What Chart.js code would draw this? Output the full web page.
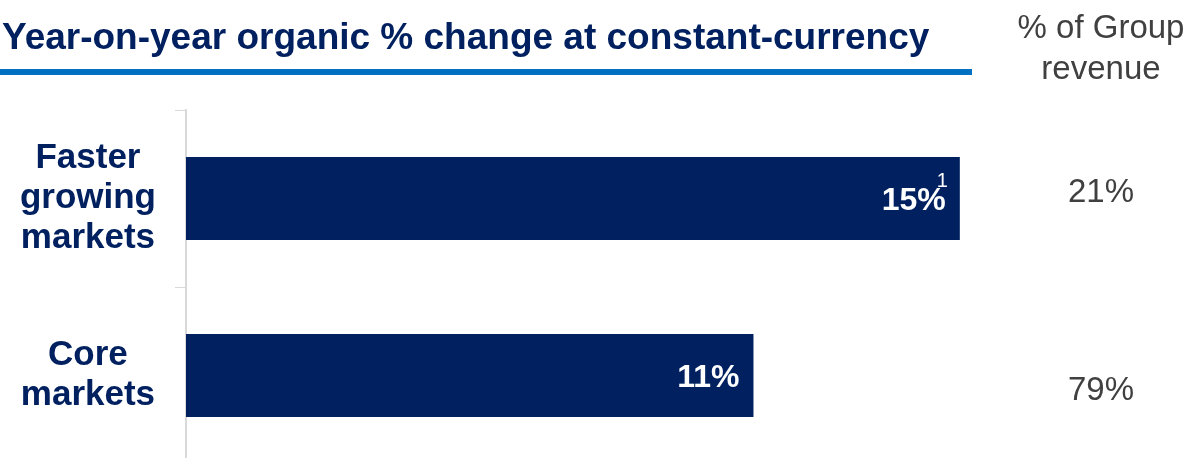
<!DOCTYPE html>
<html>
<head>
<meta charset="utf-8">
<script src="https://cdn.jsdelivr.net/npm/chart.js@4.4.0/dist/chart.umd.min.js"></script>
<style>
  html, body { margin: 0; padding: 0; background: #fff; overflow: hidden; }
  #wrap { width: 1195px; height: 458px; overflow: hidden; }
</style>
</head>
<body>
<div id="wrap"><canvas id="chart" width="1195" height="470"></canvas></div>
<script>
/* ---------- dados ---------- */
const categories = [['Faster', 'growing', 'markets'], ['Core', 'markets']];
const growth = [15, 11];          // % organic change, constant currency
const footnotes = ['1', ''];
const groupShare = [21, 79];      // % of Group revenue

const NAVY = '#002060';
const GREY = '#404040';
const FONT = "'Liberation Sans', Arial, sans-serif";
const TITLE = 'Year-on-year organic % change at constant-currency';

/* ---------- título, régua e coluna da direita ---------- */
const decorPlugin = {
  id: 'decor',
  afterDraw(chart) {
    const { ctx } = chart;
    ctx.save();
    ctx.fillStyle = NAVY;
    ctx.font = `bold 37px ${FONT}`;
    ctx.textAlign = 'left';
    ctx.textBaseline = 'alphabetic';
    ctx.fillText(TITLE, 2, 49);

    ctx.fillStyle = '#0070C0';
    ctx.fillRect(0, 69, 972, 6);

    ctx.fillStyle = GREY;
    ctx.font = `33px ${FONT}`;
    ctx.textAlign = 'center';
    ctx.fillText('% of Group', 1101, 38);
    ctx.fillText('revenue', 1101, 79);

    // valores dentro das barras + % da receita
    const meta = chart.getDatasetMeta(0);
    meta.data.forEach((bar, i) => {
      const xEnd = bar.x - 14;
      ctx.fillStyle = '#fff';
      ctx.font = `bold 32px ${FONT}`;
      ctx.textAlign = 'right';
      ctx.fillText(growth[i] + '%', xEnd, bar.y + 11.5);
      if (footnotes[i]) {
        ctx.font = `20px ${FONT}`;
        ctx.textAlign = 'left';
        ctx.fillText(footnotes[i], xEnd - 9, bar.y - 12);
      }
      ctx.fillStyle = GREY;
      ctx.font = `33px ${FONT}`;
      ctx.textAlign = 'center';
      ctx.fillText(groupShare[i] + '%', 1101, i === 0 ? bar.y + 3 : bar.y + 24);
    });
    ctx.restore();
  }
};

new Chart(document.getElementById('chart'), {
  type: 'bar',
  data: {
    labels: categories,
    datasets: [{
      data: growth,
      backgroundColor: NAVY,
      borderWidth: 0,
      barPercentage: 0.94,
      categoryPercentage: 0.5
    }]
  },
  options: {
    indexAxis: 'y',
    responsive: false,
    animation: false,
    layout: { padding: { top: 110, right: 132, bottom: 6, left: 0 } },
    plugins: { legend: { display: false }, tooltip: { enabled: false } },
    scales: {
      x: { display: false, min: 0, max: 17 },
      y: {
        afterFit: (s) => { s.width = 186; s.paddingTop = 0; s.paddingBottom = 0; },
        grid: { offset: true, drawOnChartArea: false, color: '#D9D9D9', tickLength: 11 },
        border: { color: '#D9D9D9', width: 2 },
        ticks: {
          crossAlign: 'center',
          padding: 19,
          color: NAVY,
          font: { family: FONT, size: 35, weight: 'bold', lineHeight: '40px' }
        }
      }
    }
  },
  plugins: [decorPlugin]
});
</script>
</body>
</html>
